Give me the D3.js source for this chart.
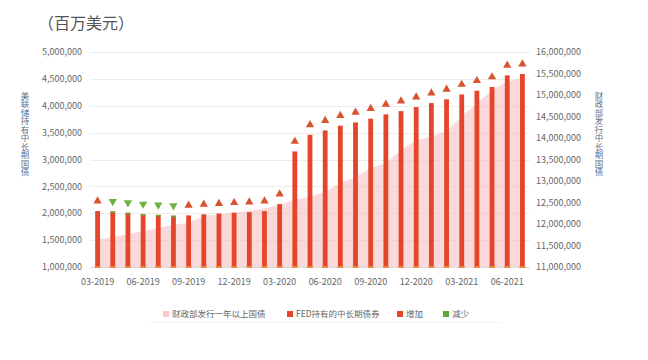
<!DOCTYPE html>
<html>
<head>
<meta charset="utf-8">
<script src="https://cdn.jsdelivr.net/npm/d3@7"></script>
<style>
  html, body { margin: 0; padding: 0; background: #ffffff; }
  svg { display: block; }
  text { font-family: "Noto Sans CJK SC", "Noto Sans", sans-serif; }
</style>
</head>
<body>
<svg id="chart" width="648" height="360"></svg>
<script>
// ---- data ----
const months = ["03-2019","04-2019","05-2019","06-2019","07-2019","08-2019","09-2019","10-2019","11-2019","12-2019",
  "01-2020","02-2020","03-2020","04-2020","05-2020","06-2020","07-2020","08-2020","09-2020","10-2020",
  "11-2020","12-2020","01-2021","02-2021","03-2021","04-2021","05-2021","06-2021","07-2021"];
// FED持有的中长期债券 (百万美元, 左轴)
const fedHoldings = [2040000,2035000,2010000,1985000,1970000,1955000,1960000,1980000,1995000,2010000,
  2020000,2040000,2170000,3150000,3460000,3540000,3630000,3690000,3760000,3840000,
  3900000,3975000,4050000,4120000,4210000,4280000,4350000,4565000,4590000];
// 财政部发行一年以上国债 (百万美元, 右轴)
const treasuryIssued = [11640000,11700000,11760000,11840000,11910000,11980000,12030000,12190000,12220000,12270000,
  12310000,12360000,12440000,12570000,12630000,12750000,12950000,13090000,13300000,13410000,
  13720000,13950000,14030000,14170000,14500000,14800000,15120000,15310000,15390000];
// 增加 / 减少
const change = ["up","down","down","down","down","down","up","up","up","up",
  "up","up","up","up","up","up","up","up","up","up",
  "up","up","up","up","up","up","up","up","up"];
const leftTicks = [1000000,1500000,2000000,2500000,3000000,3500000,4000000,4500000,5000000];
const rightTicks = [11000000,11500000,12000000,12500000,13000000,13500000,14000000,14500000,15000000,15500000,16000000];
const xTickLabels = ["03-2019","06-2019","09-2019","12-2019","03-2020","06-2020","09-2020","12-2020","03-2021","06-2021"];
const leftTitle = "美联储持有中长期国债";
const rightTitle = "财政部发行中长期国债";
const legendItems = [
  {name: "财政部发行一年以上国债", color: "#f7c9c9"},
  {name: "FED持有的中长期债券", color: "#e5452a"},
  {name: "增加", color: "#e5452a"},
  {name: "减少", color: "#58a83a"}
];

// ---- layout ----
const svg = d3.select("#chart");
const plot = {left: 90, right: 530, top: 52, bottom: 267};
const fmt = d3.format(",");

const x = d3.scaleBand().domain(months).range([plot.left, plot.right]).padding(0);
const yL = d3.scaleLinear().domain([1000000, 5000000]).range([plot.bottom, plot.top]);
const yR = d3.scaleLinear().domain([11000000, 16000000]).range([plot.bottom, plot.top]);
const cx = m => x(m) + x.bandwidth() / 2;

// title
svg.append("text").attr("x", 38).attr("y", 29).attr("font-size", 16).attr("fill", "#555")
  .text("（百万美元）");

// gridlines
svg.append("g").selectAll("line").data(leftTicks).join("line")
  .attr("x1", plot.left).attr("x2", plot.right)
  .attr("y1", d => Math.round(yL(d)) + 0.5).attr("y2", d => Math.round(yL(d)) + 0.5)
  .attr("stroke", d => d === 1000000 ? "#d6dde8" : "#ececec").attr("stroke-width", 1);

// area (right axis)
const area = d3.area()
  .x((d, i) => cx(months[i]))
  .y0(plot.bottom)
  .y1(d => yR(d));
svg.append("path").datum(treasuryIssued).attr("d", area)
  .attr("fill", "#f6b9bd").attr("fill-opacity", 0.55);

// bars (left axis)
const bw = 4.8;
svg.append("g").selectAll("rect").data(fedHoldings).join("rect")
  .attr("x", (d, i) => cx(months[i]) - bw / 2)
  .attr("y", d => yL(d))
  .attr("width", bw)
  .attr("height", d => plot.bottom - yL(d))
  .attr("fill", "#e5452a");

// decrease caps
svg.append("g").selectAll("rect").data(fedHoldings.map((v, i) => ({v, i})).filter(d => change[d.i] === "down")).join("rect")
  .attr("x", d => cx(months[d.i]) - bw / 2)
  .attr("y", d => yL(d.v))
  .attr("width", bw).attr("height", 1.6)
  .attr("fill", "#6aa83a");

// baseline dashes
svg.append("g").selectAll("rect").data(months).join("rect")
  .attr("x", m => cx(m) - bw / 2 - 0.5).attr("y", plot.bottom - 1)
  .attr("width", bw + 1).attr("height", 2).attr("fill", "#f0873a");

// triangles
const triSize = 30;
svg.append("g").selectAll("path").data(fedHoldings).join("path")
  .attr("d", d3.symbol().type(d3.symbolTriangle).size(triSize))
  .attr("transform", (d, i) => `translate(${cx(months[i])},${yL(d) - 10}) rotate(${change[i] === "down" ? 180 : 0})`)
  .attr("fill", (d, i) => change[i] === "down" ? "#6db33f" : "#d9532f");

// left axis labels
svg.append("g").selectAll("text").data(leftTicks).join("text")
  .attr("x", 82).attr("y", d => yL(d)).attr("dy", "0.35em")
  .attr("text-anchor", "end").attr("font-size", 9).attr("fill", "#666")
  .text(d => fmt(d));

// right axis labels
svg.append("g").selectAll("text").data(rightTicks).join("text")
  .attr("x", 536).attr("y", d => yR(d)).attr("dy", "0.35em")
  .attr("text-anchor", "start").attr("font-size", 9).attr("fill", "#666")
  .text(d => fmt(d));

// x axis labels
svg.append("g").selectAll("text").data(xTickLabels).join("text")
  .attr("x", d => cx(d)).attr("y", 282).attr("dy", "0.35em")
  .attr("text-anchor", "middle").attr("font-size", 9).attr("fill", "#666")
  .text(d => d);

// axis titles (vertical writing, upright characters)
function verticalTitle(str, xPos, yCenter) {
  svg.append("text")
    .attr("x", xPos).attr("y", yCenter)
    .attr("text-anchor", "middle")
    .style("writing-mode", "vertical-rl")
    .style("text-orientation", "upright")
    .attr("font-size", 8.5).attr("fill", "#5f6f8a")
    .text(str);
}
verticalTitle(leftTitle, 25, 134);
verticalTitle(rightTitle, 599, 134);

// legend
const legendX = [163, 287, 397, 443];
const lg = svg.append("g");
legendItems.forEach((it, i) => {
  lg.append("rect").attr("x", legendX[i]).attr("y", 311).attr("width", 6).attr("height", 6).attr("fill", it.color);
  lg.append("text").attr("x", legendX[i] + 9).attr("y", 314).attr("dy", "0.35em")
    .attr("font-size", 8.5).attr("fill", "#666").text(it.name);
});
svg.append("line").attr("x1", 150).attr("x2", 500).attr("y1", 322.5).attr("y2", 322.5)
  .attr("stroke", "#f2f2f2");
</script>
</body>
</html>
